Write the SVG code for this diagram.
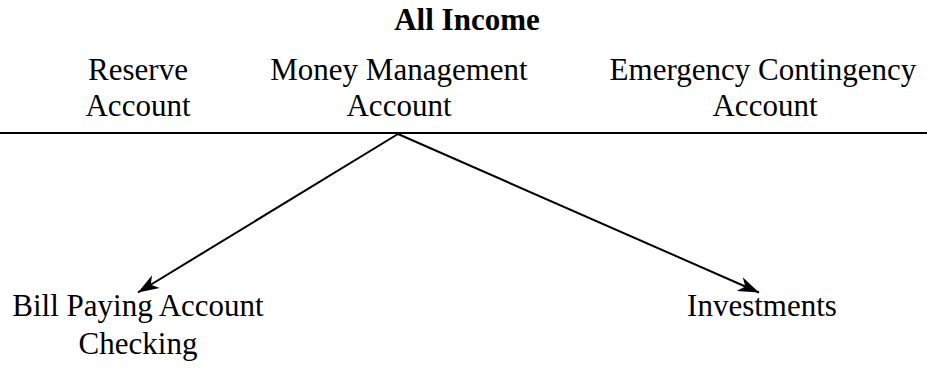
<svg xmlns="http://www.w3.org/2000/svg" width="927" height="368" viewBox="0 0 927 368" font-family="'Liberation Serif', 'Times New Roman', Times, serif">
<style>
  text { font-family: 'Liberation Serif', 'Times New Roman', Times, serif; font-size: 31px; fill: #000; text-anchor: middle; }
  .title { font-weight: bold; }
  .conn { stroke: #000; stroke-width: 2; fill: none; }
</style>
<defs>
  <marker id="arrow" markerUnits="userSpaceOnUse" markerWidth="24" markerHeight="16" viewBox="-22 -8 24 16" refX="0" refY="0" orient="auto">
    <path d="M0,0 L-21,-7.5 L-15,0 L-21,7.5 Z" fill="#000"/>
  </marker>
</defs>
<rect width="927" height="368" fill="#fff"/>
<g id="all-income">
  <text class="title" x="467" y="30">All Income</text>
</g>
<g id="reserve-account">
  <text x="138" y="80">Reserve</text>
  <text x="138" y="116">Account</text>
</g>
<g id="money-management-account">
  <text x="399" y="80">Money Management</text>
  <text x="399" y="116">Account</text>
</g>
<g id="emergency-contingency-account">
  <text x="763" y="80">Emergency Contingency</text>
  <text x="765" y="116">Account</text>
</g>
<g id="bill-paying-account">
  <text x="138" y="316">Bill Paying Account</text>
  <text x="138" y="354">Checking</text>
</g>
<g id="investments">
  <text x="762" y="316">Investments</text>
</g>
<g id="connectors">
  <line class="conn" x1="0" y1="133" x2="927" y2="133"/>
  <line class="conn" x1="398" y1="134" x2="138" y2="292.5" marker-end="url(#arrow)"/>
  <line class="conn" x1="398" y1="134" x2="759" y2="292.5" marker-end="url(#arrow)"/>
</g>
</svg>
